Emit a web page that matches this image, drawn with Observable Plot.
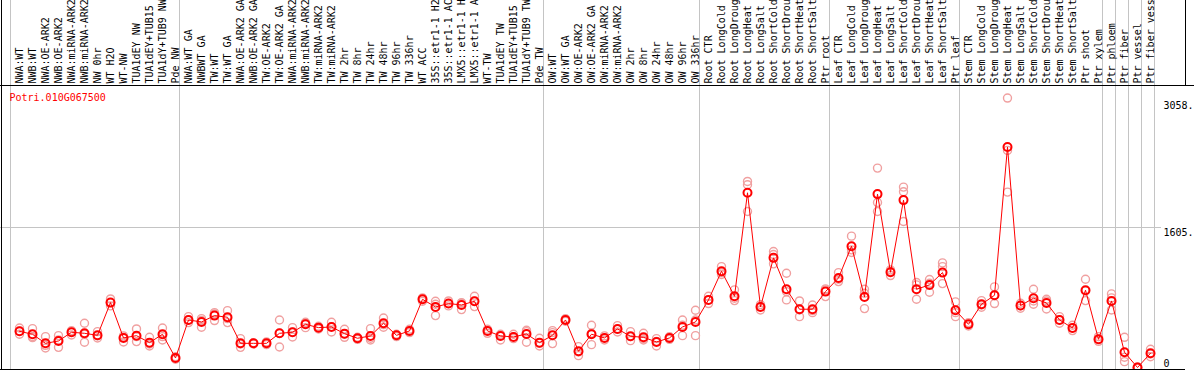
<!DOCTYPE html>
<html>
<head>
<meta charset="utf-8">
<script src="https://cdn.jsdelivr.net/npm/d3@7"></script>
<script src="https://cdn.jsdelivr.net/npm/@observablehq/plot@0.6"></script>
<style>
  html, body { margin: 0; padding: 0; background: white; }
  svg { display: block; }
</style>
</head>
<body>
<div id="chart"></div>
<script>
const geneId = "Potri.010G067500";

const categories = [
  "NWA:WT","NWB:WT","NWA:OE-ARK2","NWB:OE-ARK2","NWA:miRNA-ARK2","NWB:miRNA-ARK2","NW 0hr","WT H2O","WT-NW","TUA1dEY NW","TUA1dEY+TUB15","TUA1dY+TUB9 NW","Pde NW",
  "NWA:WT GA","NWBWT GA","TW:WT","TW:WT GA","NWA:OE-ARK2 GA","NWB:OE-ARK2 GA","TW:OE-ARK2","TW:OE-ARK2 GA","NWA:miRNA-ARK2","NWB:miRNA-ARK2","TW:miRNA-ARK2","TW:miRNA-ARK2","TW 2hr","TW 8hr","TW 24hr","TW 48hr","TW 96hr","TW 336hr","WT ACC","35S::etr1-1 H2O","35S::etr1-1 ACC","LMX5::etr1-1 H2O","LMX5::etr1-1 ACC","WT-TW","TUA1dEY TW","TUA1dEY+TUB15","TUA1dY+TUB9 TW","Pde TW",
  "OW:WT","OW:WT GA","OW:OE-ARK2","OW:OE-ARK2 GA","OW:miRNA-ARK2","OW:miRNA-ARK2","OW 2hr","OW 8hr","OW 24hr","OW 48hr","OW 96hr","OW 336hr",
  "Root CTR","Root LongCold","Root LongDrought","Root LongHeat","Root LongSalt","Root ShortCold","Root ShortDrought","Root ShortHeat","Root ShortSalt","Ptr root",
  "Leaf CTR","Leaf LongCold","Leaf LongDrought","Leaf LongHeat","Leaf LongSalt","Leaf ShortCold","Leaf ShortDrought","Leaf ShortHeat","Leaf ShortSalt","Ptr leaf",
  "Stem CTR","Stem LongCold","Stem LongDrought","Stem LongHeat","Stem LongSalt","Stem ShortCold","Stem ShortDrought","Stem ShortHeat","Stem ShortSalt","Ptr shoot","Ptr xylem",
  "Ptr phloem","Ptr fiber","Ptr vessel","Ptr fiber vessel"
];

const groupSizes = [13, 28, 12, 10, 10, 11, 1, 1, 1, 1];

const means = [
  415,381,277,304,404,392,369,744,339,365,285,381,109,
  545,522,595,576,277,277,277,392,404,495,457,465,388,335,362,507,369,419,782,694,733,717,759,419,362,350,385,285,
  369,545,186,381,339,442,358,346,293,339,465,522,
  775,1104,817,2003,694,1257,897,668,668,870,
  1027,1391,809,1988,1092,1919,897,947,1088,656,
  495,725,828,2527,710,794,740,545,453,886,323,
  763,174,0,163
];

const rep1 = [
  453,446,354,365,423,507,411,786,362,442,346,453,124,
  583,560,629,652,331,285,293,545,457,518,473,518,438,346,446,568,381,438,798,759,763,744,817,438,381,381,427,335,
  423,560,239,484,362,480,411,392,331,354,545,656,
  817,1157,890,2133,721,1330,1081,763,717,901,
  1088,1506,897,2286,1119,2068,974,1008,1199,752,
  515,767,924,3089,736,897,782,583,484,1012,354,
  844,346,6,209
];
const rep2 = [
  415,354,254,316,404,381,362,744,346,354,270,354,109,
  545,538,614,560,270,277,277,392,404,507,457,469,381,335,335,492,369,419,782,725,733,737,759,419,362,350,411,277,
  400,545,178,392,339,438,354,331,300,339,484,545,
  775,1088,794,2095,698,1295,870,660,652,890,
  1012,1349,851,1892,1100,2014,947,966,1157,629,
  495,717,828,2489,706,763,763,545,453,878,323,
  798,117,0,155
];
const rep3 = [
  381,342,224,231,373,289,339,706,293,297,247,316,94,
  515,461,538,515,231,270,262,235,350,457,442,407,346,323,316,461,354,400,759,595,706,664,698,392,316,331,289,247,
  274,530,136,262,316,407,308,316,247,323,365,365,
  733,1066,767,1789,660,1188,775,583,629,813,
  985,1318,675,1789,1054,1674,782,863,962,583,
  476,691,733,2011,679,725,671,507,423,767,300,
  660,67,0,124
];

const yTickValues = [0, 1605, 3058];
const yTickLabels = ["0", "1605.", "3058."];

// ---- derived tables ----
const n = categories.length;
const meanRows = means.map((v, i) => ({i, v}));
const repRows = [rep1, rep2, rep3].flatMap(arr => arr.map((v, i) => ({i, v})));
const catRows = categories.map((c, i) => ({i, c}));
const boundaries = [0];
groupSizes.forEach(s => boundaries.push(boundaries[boundaries.length - 1] + s));
const sepOffset = -9 / 13;
const tickRows = yTickValues.map((v, k) => ({v, label: yTickLabels[k]}));

const mono = "DejaVu Sans Mono";

const chart = Plot.plot({
  width: 1194,
  height: 370,
  margin: 0,
  style: {background: "white", fontFamily: mono, fontSize: "10px", color: "black"},
  x: {type: "linear", domain: [0, n - 1], range: [19, 19 + 13 * (n - 1)], axis: null},
  y: {type: "linear", domain: [0, 1605], range: [367, 227], axis: null},
  marks: [
    Plot.ruleX(boundaries, {x: d => d + sepOffset, stroke: "#c4c4c4", strokeWidth: 1}),
    Plot.ruleY([yTickValues[1]], {stroke: "#c4c4c4", strokeWidth: 1, insetRight: 33}),
    Plot.dot(repRows, {x: "i", y: "v", r: 4, stroke: "#f0a0a0", strokeWidth: 1.4, fill: "none"}),
    Plot.line(meanRows, {x: "i", y: "v", stroke: "#ff0000", strokeWidth: 1}),
    Plot.dot(meanRows, {x: "i", y: "v", r: 4, stroke: "#ff0000", strokeWidth: 2, fill: "none"}),
    Plot.text(catRows, {
      x: "i", text: "c", frameAnchor: "top", dy: 83, rotate: -90,
      textAnchor: "start", lineAnchor: "middle", fill: "black",
      fontFamily: mono, fontSize: 10
    }),
    Plot.text([geneId], {
      text: d => d, frameAnchor: "top-left", dx: 9, dy: 97,
      textAnchor: "start", lineAnchor: "middle", fill: "#ff0000",
      fontFamily: mono, fontSize: 10
    }),
    Plot.text(tickRows.filter(d => d.v !== 0), {
      y: "v", text: "label", frameAnchor: "right", dx: -31,
      textAnchor: "start", lineAnchor: "top", dy: 1, fill: "black",
      fontFamily: mono, fontSize: 10
    }),
    Plot.text(tickRows.filter(d => d.v === 0), {
      y: "v", text: "label", frameAnchor: "right", dx: -31,
      textAnchor: "start", lineAnchor: "bottom", dy: -1, fill: "black",
      fontFamily: mono, fontSize: 10
    })
  ]
});

// decorative frame lines
d3.select(chart).append("path")
  .attr("d", "M1.5,0V370M0,85.5H1194M0,369.5H1185M1185.5,0V85.5")
  .attr("stroke", "black")
  .attr("fill", "none")
  .attr("stroke-width", 1);

document.getElementById("chart").appendChild(chart);
</script>
</body>
</html>
